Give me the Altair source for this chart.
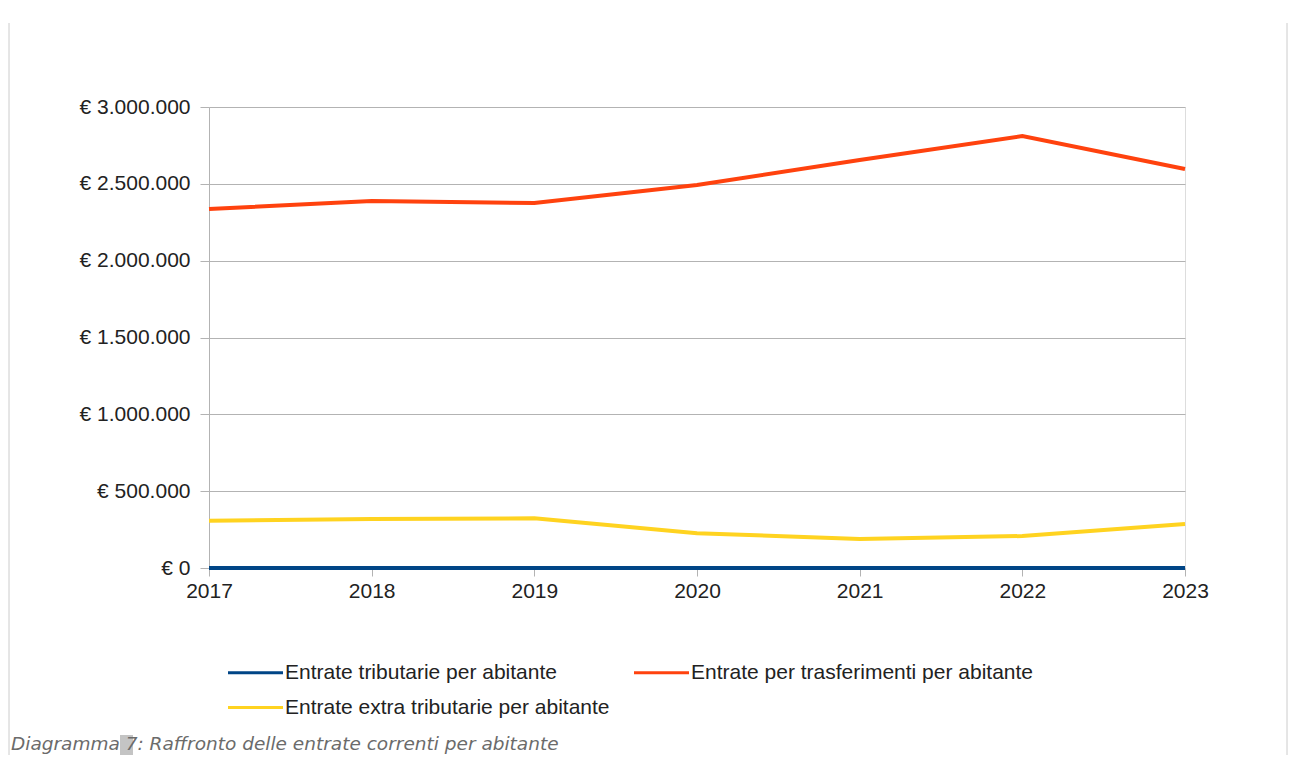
import altair as alt
import pandas as pd

years = [2017, 2018, 2019, 2020, 2021, 2022, 2023]
tributarie = [0, 0, 0, 0, 0, 0, 0]
trasferimenti = [2336000, 2388000, 2375000, 2492000, 2655000, 2811000, 2597000]
extra_tributarie = [308000, 319000, 323000, 226000, 189000, 208000, 286000]

series_names = [
    "Entrate tributarie per abitante",
    "Entrate per trasferimenti per abitante",
    "Entrate extra tributarie per abitante",
]
series_colors = ["#004586", "#ff420e", "#ffd320"]
caption_text = "Diagramma 7: Raffronto delle entrate correnti per abitante"

rows = []
for name, vals in zip(series_names, [tributarie, trasferimenti, extra_tributarie]):
    for y, v in zip(years, vals):
        rows.append({"Anno": y, "Valore": v, "Serie": name})
df = pd.DataFrame(rows)

W, H = 976, 461
grid_col = "#b3b3b3"
txt_col = "#222222"

lines = alt.Chart(df).mark_line(strokeWidth=4, interpolate="linear").encode(
    x=alt.X("Anno:Q",
            scale=alt.Scale(domain=[2017, 2023], nice=False, zero=False),
            axis=alt.Axis(title=None, values=years, format="d", grid=False,
                          domain=False, ticks=True, tickSize=8, tickColor=grid_col,
                          labelFont="Liberation Sans", labelFontSize=21,
                          labelColor=txt_col, labelPadding=4, labelFlush=False)),
    y=alt.Y("Valore:Q",
            scale=alt.Scale(domain=[0, 3000000], nice=False),
            axis=alt.Axis(title=None, values=[0, 500000, 1000000, 1500000, 2000000, 2500000, 3000000],
                          labelExpr="'€ ' + join(split(format(datum.value, ',.0f'), ','), '.')",
                          grid=True, gridColor=grid_col, domainColor=grid_col,
                          tickColor=grid_col, tickSize=9,
                          labelFont="Liberation Sans", labelFontSize=21,
                          labelColor=txt_col, labelPadding=10)),
    color=alt.Color("Serie:N",
                    scale=alt.Scale(domain=series_names, range=series_colors),
                    legend=alt.Legend(title=None, orient="none", legendX=34, legendY=553,
                                      direction="horizontal", columns=2,
                                      symbolType="M-2.5,0H2.5", symbolSize=484,
                                      symbolStrokeWidth=3, labelOffset=17,
                                      labelFont="Liberation Sans", labelFontSize=21,
                                      labelColor=txt_col, rowPadding=12,
                                      columnPadding=18, labelLimit=500)),
    order=alt.Order("Serie:N"),
)

cap_df = pd.DataFrame({"t": [caption_text]})
highlight = alt.Chart(cap_df).mark_rect(color="#c4c4c4").encode(
    x=alt.value(-89), x2=alt.value(-76), y=alt.value(628), y2=alt.value(648))
caption = alt.Chart(cap_df).mark_text(
    align="left", baseline="alphabetic", font="DejaVu Sans", fontStyle="italic",
    fontSize=18.5, color="#6b6b6b",
).encode(x=alt.value(-198), y=alt.value(643), text="t:N")

border_df = pd.DataFrame({"k": [0]})
left_border = alt.Chart(border_df).mark_rule(color="#cccccc", strokeWidth=1).encode(
    x=alt.value(-200), y=alt.value(-84), y2=alt.value(648))
right_border = alt.Chart(border_df).mark_rule(color="#cccccc", strokeWidth=1).encode(
    x=alt.value(1078), y=alt.value(-84), y2=alt.value(648))

chart = alt.layer(left_border, right_border, lines, highlight, caption).properties(
    width=W, height=H,
    autosize=alt.AutoSizeParams(type="none"),
    padding={"left": 201, "top": 99, "right": 103, "bottom": 187},
).configure_view(stroke=grid_col, strokeWidth=1).configure(background="white")

chart.save("out.html", embed_options={"renderer": "svg", "actions": False})
